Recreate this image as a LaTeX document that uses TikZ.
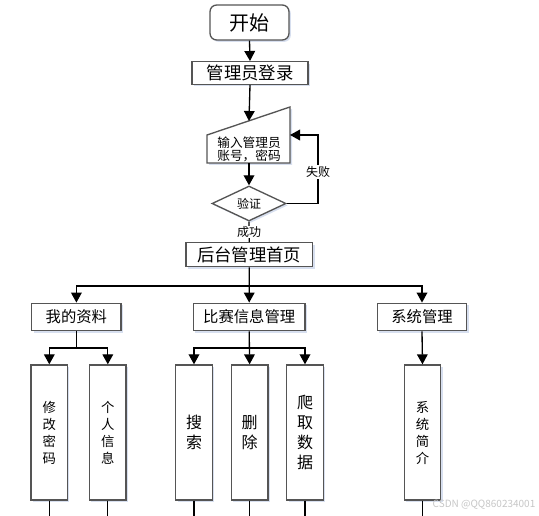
\documentclass[tikz,border=0pt]{standalone}
\usepackage{fontspec}
\setmainfont{Noto Sans CJK SC}
\usetikzlibrary{arrows.meta,shapes.geometric,shadows}
\definecolor{boxgray}{RGB}{85,85,85}
\definecolor{shadowblue}{RGB}{205,215,235}
\tikzset{
  boxbase/.style={draw=boxgray, line width=1pt, fill=white, inner sep=0pt,
    drop shadow={shadow xshift=1.4pt, shadow yshift=-1.4pt, fill=shadowblue, opacity=0.8}},
  startbox/.style={boxbase, rounded corners=5pt, minimum width=59.25pt, minimum height=26.25pt, font=\fontsize{15pt}{17pt}\selectfont},
  wideboxA/.style={boxbase, minimum height=17pt, font=\fontsize{13pt}{15pt}\selectfont},
  midbox/.style={boxbase, minimum height=20.6pt, font=\fontsize{11.5pt}{13pt}\selectfont},
  tallbox/.style={boxbase, minimum width=27.4pt, minimum height=101.25pt, align=center},
  smalltxt/.style={font=\fontsize{10pt}{12.75pt}\selectfont},
  bigtxt/.style={font=\fontsize{12pt}{15pt}\selectfont},
  decide/.style={boxbase, diamond, minimum width=55.5pt, minimum height=24.75pt, font=\fontsize{9pt}{11pt}\selectfont},
  lbl/.style={fill=white, inner sep=1pt, font=\fontsize{9pt}{11pt}\selectfont},
  conn/.style={draw=black, line width=1pt},
  arr/.style={conn, -{Triangle[length=7.5pt,width=8pt]}},
}
\begin{document}
\begin{tikzpicture}[x=0.75pt,y=-0.75pt]
\useasboundingbox (0,0) rectangle (539,516);
% top flow
\node[startbox] (start) at (249.5,22.5) {开始};
\node[wideboxA, minimum width=87pt] (login) at (250,73) {管理员登录};
\coordinate (intop) at (249,121);
\coordinate (inbot) at (249,163);
\coordinate (inright) at (290,135);
\fill[shadowblue, opacity=0.8] (209,137) -- (292,109) -- (292,165) -- (209,165) -- cycle;
\draw[draw=boxgray, line width=1pt, fill=white] (207,135) -- (290,107) -- (290,163) -- (207,163) -- cycle;
\node[align=center, font=\fontsize{9.5pt}{10pt}\selectfont, inner sep=0pt] (input) at (249,149.5) {输入管理员\\账号，密码};
\node[decide] (dia) at (249,203.5) {验证};
\node[wideboxA, minimum width=95pt, minimum height=18pt] (home) at (249.3,254.7) {后台管理首页};
% second level
\node[midbox, minimum width=67pt] (p1) at (76.4,317) {我的资料};
\node[midbox, minimum width=83.8pt] (p2) at (249.2,317) {比赛信息管理};
\node[midbox, minimum width=67pt] (p3) at (422,317) {系统管理};
% third level
\node[tallbox, smalltxt] (c11) at (49.3,432.5) {修\\改\\密\\码};
\node[tallbox, smalltxt] (c12) at (107.8,432.5) {个\\人\\信\\息};
\node[tallbox, bigtxt] (c21) at (194,432.5) {搜\\索};
\node[tallbox, bigtxt] (c22) at (249.6,432.5) {删\\除};
\node[tallbox, bigtxt] (c23) at (305,432.5) {爬\\取\\数\\据};
\node[tallbox, smalltxt] (c31) at (422.5,432.5) {系\\统\\简\\介};
% connectors
\draw[arr] (start.south) -- (login.north);
\draw[arr] (login.south) -- (intop);
\draw[arr] (inbot) -- (dia.north);
\draw[arr] (dia.east) -- (318,203.5) |- node[lbl, pos=0.23] {失败} (inright);
\draw[conn] (dia.south) -- node[lbl, inner sep=0.5pt] {成功} (home.north);
\coordinate (bus) at (249.3,286);
\draw[arr] (home.south) -- (p2.north);
\draw[arr] (bus) -| (p1.north);
\draw[arr] (bus) -| (p3.north);
\coordinate (b1) at (76.4,348);
\coordinate (b2) at (249.2,348);
\draw[conn] (p1.south) -- (b1);
\draw[arr] (b1) -| (c11.north);
\draw[arr] (b1) -| (c12.north);
\draw[arr] (p2.south) -- (c22.north);
\draw[arr] (b2) -| (c21.north);
\draw[arr] (b2) -| (c23.north);
\draw[arr] (p3.south) -- (c31.north);
\coordinate (bottom) at (0,516);
\foreach \c in {c11,c12,c21,c22,c23,c31} {\draw[conn] (\c.south) -- (\c.south |- bottom);}
\node[text=gray!45, font=\fontsize{7.5pt}{9pt}\selectfont, inner sep=0pt] (wm) at (484,505) {CSDN @QQ860234001};
\end{tikzpicture}
\end{document}
